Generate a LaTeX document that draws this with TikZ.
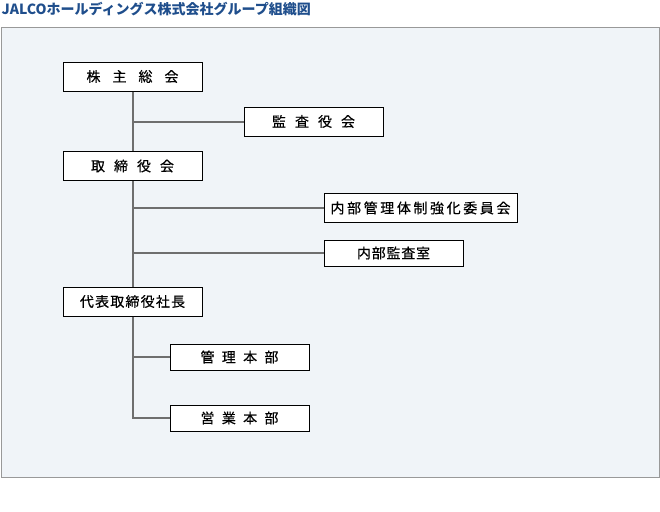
\documentclass[tikz,border=0pt]{standalone}
\usepackage{fontspec}
\setmainfont{Noto Sans CJK JP}
\newfontfamily\boxfont[FakeBold=0.5]{Noto Sans CJK JP}
\definecolor{titleblue}{HTML}{1F4E8C}
\definecolor{panelfill}{HTML}{F0F4F8}
\definecolor{panelline}{HTML}{999999}
\definecolor{linkgray}{HTML}{6E6E6E}
\newcommand\gp[1]{\hspace{#1pt}}
\begin{document}
\begin{tikzpicture}[x=1pt,y=-1pt,
  orgbox/.style={draw=black,line width=1pt,fill=white,inner sep=0pt,
    minimum width=139pt,font=\boxfont\fontsize{14}{14}\selectfont},
  tallbox/.style={orgbox,minimum height=29pt},
  shortbox/.style={orgbox,minimum height=26pt},
  link/.style={draw=linkgray,line width=2pt}]
\useasboundingbox (0,0) rectangle (660,511);
\node[anchor=base west,inner sep=0pt,text=titleblue,font=\fontsize{14}{14}\selectfont\bfseries] (title) at (1.5,14.5) {JALCOホールディングス株式会社グループ組織図};
\path[fill=panelfill,draw=panelline,line width=1pt] (1,27.5) rectangle (659,477);
\node[tallbox] (kabu) at (132.5,76.5) {株\gp{12}主\gp{12}総\gp{12}会};
\node[tallbox] (kansa) at (313.5,121.5) {監\gp{9}査\gp{9}役\gp{9}会};
\node[tallbox] (tori) at (132.5,166) {取\gp{9}締\gp{9}役\gp{9}会};
\node[tallbox,minimum width=193pt] (iinkai) at (420.5,208) {内\gp{2.6}部\gp{2.6}管\gp{2.6}理\gp{2.6}体\gp{2.6}制\gp{2.6}強\gp{2.6}化\gp{2.6}委\gp{2.6}員\gp{2.6}会};
\node[shortbox] (kansashitsu) at (393.5,253) {内\gp{0.8}部\gp{0.8}監\gp{0.8}査\gp{0.8}室};
\node[tallbox] (shacho) at (132.5,301.5) {代\gp{1.2}表\gp{1.2}取\gp{1.2}締\gp{1.2}役\gp{1.2}社\gp{1.2}長};
\node[shortbox] (kanri) at (239.5,357) {管\gp{7.3}理\gp{7.3}本\gp{7.3}部};
\node[shortbox] (eigyo) at (239.5,418) {営\gp{7.3}業\gp{7.3}本\gp{7.3}部};
\draw[link] (kabu.south) -- (tori.north);
\draw[link] (tori.south) -- (shacho.north);
\draw[link] (kabu.south |- kansa.west) -- (kansa.west);
\draw[link] (tori.south |- iinkai.west) -- (iinkai.west);
\draw[link] (tori.south |- kansashitsu.west) -- (kansashitsu.west);
\draw[link] (shacho.south |- kanri.west) -- (kanri.west);
\draw[link] (shacho.south) |- (eigyo.west);
\end{tikzpicture}
\end{document}
